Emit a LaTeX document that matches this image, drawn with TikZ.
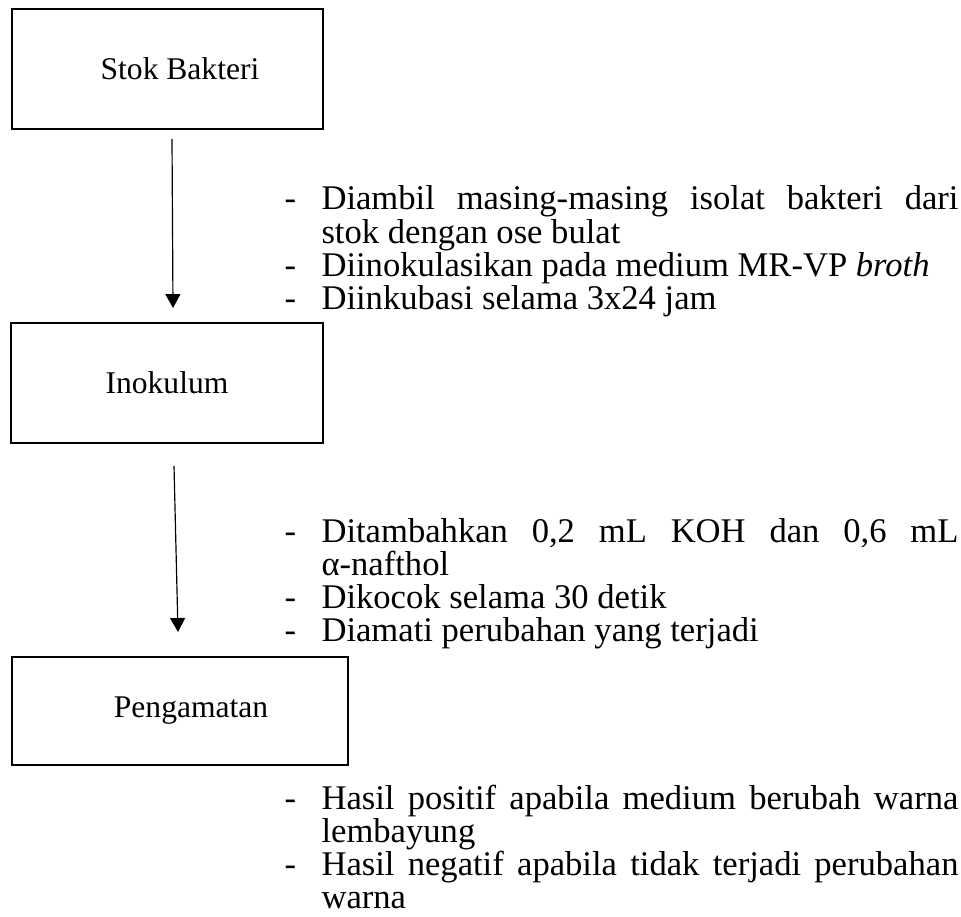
\documentclass[tikz,border=0pt]{standalone}
\usepackage{fontspec}
\setmainfont{Liberation Serif}
\usetikzlibrary{arrows.meta}
\usetikzlibrary{positioning}

\tikzset{
  stepbox/.style={draw, line width=0.7pt, inner sep=0pt, font=\fontsize{12}{14}\selectfont},
  flow/.style={line width=0.45pt, -{Triangle[length=5.3pt,width=5.7pt]}},
  notes/.style={anchor=base west, inner sep=0pt, text width=256.1pt, align=justify,
    font=\fontsize{13.15}{12.6}\selectfont},
}
\newcommand{\noteitem}[1]{\noindent\hyphenpenalty=10000\hangindent=14.06pt\hangafter=1\makebox[14.06pt][l]{-}#1\par}

\begin{document}
\begin{tikzpicture}[x=0.38pt, y=-0.38pt]
\useasboundingbox (0,0) rectangle (961,917);
% kotak
\node[stepbox, minimum width=118.2pt, minimum height=45.6pt] (stok) at (167.5,69) {\hspace*{9.5pt}Stok Bakteri};
\node[stepbox, minimum width=118.6pt, minimum height=45.6pt] (inok) at (167,383) {Inokulum};
\node[stepbox, minimum width=127.7pt, minimum height=41.0pt] (amat) at (180,711) {\hspace*{8.4pt}Pengamatan};
% panah
\coordinate (p1a) at (172,139);
\coordinate (p1b) at (173,308);
\coordinate (p2a) at (174,466);
\coordinate (p2b) at (178,632);
\draw[flow] (p1a) -- (p1b);
\draw[flow] (p2a) -- (p2b);
% keterangan
\node[notes] (ket1) at (284,210) {%
  \noteitem{Diambil masing-masing isolat bakteri dari\linebreak stok dengan ose bulat}%
  \noteitem{Diinokulasikan pada medium MR-VP \textit{broth}}%
  \noteitem{Diinkubasi selama 3x24 jam}};
\node[notes] (ket2) at (284,542) {%
  \noteitem{Ditambahkan 0,2 mL KOH dan 0,6 mL\linebreak α-nafthol}%
  \noteitem{Dikocok selama 30 detik}%
  \noteitem{Diamati perubahan yang terjadi}};
\node[notes] (ket3) at (284,809) {%
  \noteitem{Hasil positif apabila medium berubah warna\linebreak lembayung}%
  \noteitem{Hasil negatif apabila tidak terjadi perubahan\linebreak warna}};
\end{tikzpicture}
\end{document}
